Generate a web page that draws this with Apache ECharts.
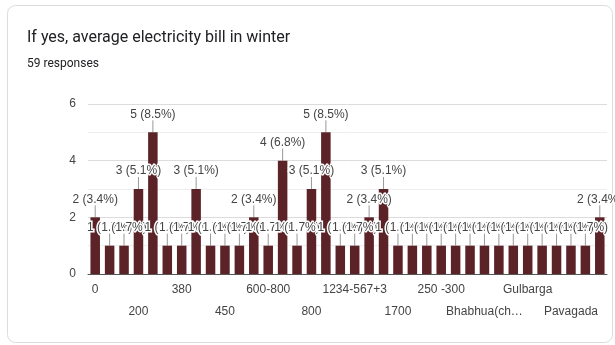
<!DOCTYPE html>
<html>
<head>
<meta charset="utf-8">
<script src="https://cdn.jsdelivr.net/npm/echarts@6/dist/echarts.min.js"></script>
<style>
  html, body { margin: 0; padding: 0; background: #fff; }
  #chart { width: 615px; height: 345px; }
</style>
</head>
<body>
<div id="chart"></div>
<script>
// Answers to "average electricity bill in winter", in form order
const categories = [
  '0', '100', '150', '200', '250', '300', '380', '400', '420', '450',
  '500', '600', '600-800', '700', '750', '800', '1000', '1200', '1234-567+3', '1500',
  '1600', '1700', '2000', '2500', '250 -300', '3000', 'Around 500', 'Bhabhua(ch…', 'Depends', 'Don\'t know',
  'Gulbarga', 'Hyderabad', 'Nil', 'Pavagada', 'Rs 1000', 'Varies'
];
const counts = [
  2, 1, 1, 3, 5, 1, 1, 3, 1, 1,
  1, 2, 1, 4, 1, 3, 5, 1, 1, 2,
  3, 1, 1, 1, 1, 1, 1, 1, 1, 1,
  1, 1, 1, 1, 1, 2
];
const totalResponses = 59;
const yTicks = [0, 2, 4, 6];

const FONT = '"Liberation Sans", Arial, sans-serif';
const chart = echarts.init(document.getElementById('chart'), null, { renderer: 'canvas' });

// Category labels are staggered on two rows: every 3rd answer is named,
// alternating between the upper and the lower row.
function labelRow(offset, margin, showLine) {
  return {
    type: 'category',
    position: 'bottom',
    data: categories,
    axisTick: { show: false },
    axisLine: { show: showLine, lineStyle: { color: '#555', width: 1 } },
    splitLine: { show: false },
    axisLabel: {
      interval: function (index) { return index % 6 === offset; },
      hideOverlap: false,
      margin: margin,
      fontFamily: FONT,
      fontSize: 12,
      color: '#444'
    }
  };
}

chart.setOption({
  animation: false,
  backgroundColor: '#fff',
  graphic: [{
    type: 'rect',
    shape: { x: 7.5, y: 5.5, width: 605, height: 337, r: 8 },
    style: { fill: 'none', stroke: '#dadce0', lineWidth: 1 },
    z: -10
  }],
  title: [{
    text: 'If yes, average electricity bill in winter',
    left: 27, top: 30, padding: 0,
    textStyle: { fontFamily: 'Roboto, sans-serif', fontSize: 16, fontWeight: 'normal', color: '#202124' }
  }, {
    text: totalResponses + ' responses',
    left: 27, top: 58, padding: 0,
    textStyle: { fontFamily: 'Roboto, sans-serif', fontSize: 12, fontWeight: 'normal', color: '#202124' }
  }],
  grid: { left: 88, right: 8, top: 104, bottom: 71, containLabel: false },
  xAxis: [labelRow(0, 10, true), labelRow(3, 32, false)],
  yAxis: {
    type: 'value',
    min: yTicks[0],
    max: yTicks[yTicks.length - 1],
    interval: yTicks[1] - yTicks[0],
    axisLine: { show: false },
    axisTick: { show: false },
    axisLabel: { margin: 12, fontFamily: FONT, fontSize: 12, color: '#444' },
    splitLine: { lineStyle: { color: '#dcdcdc', width: 1 } },
    minorTick: { show: false, splitNumber: 2 },
    minorSplitLine: { show: true, lineStyle: { color: '#eeeeee', width: 1 } }
  },
  series: [{
    type: 'bar',
    xAxisIndex: 0,
    data: counts,
    barWidth: '66%',
    itemStyle: { color: '#5b2327' },
    label: {
      show: true,
      position: 'top',
      distance: 12,
      fontFamily: FONT,
      fontSize: 12,
      color: '#444',
      textBorderColor: '#fff',
      textBorderWidth: 3,
      formatter: function (p) {
        return p.value + ' (' + (p.value / totalResponses * 100).toFixed(1) + '%)';
      }
    },
    z: 2
  }, {
    // annotation stems from each bar top up to its label
    type: 'custom',
    xAxisIndex: 0,
    data: counts.map(function (v, i) { return [i, v]; }),
    encode: { x: 0, y: 1 },
    renderItem: function (params, api) {
      const pt = api.coord([api.value(0), api.value(1)]);
      return {
        type: 'line',
        shape: { x1: pt[0], y1: pt[1], x2: pt[0], y2: pt[1] - 12 },
        style: { stroke: '#999', lineWidth: 1 }
      };
    },
    z: 1
  }]
});
</script>
</body>
</html>
